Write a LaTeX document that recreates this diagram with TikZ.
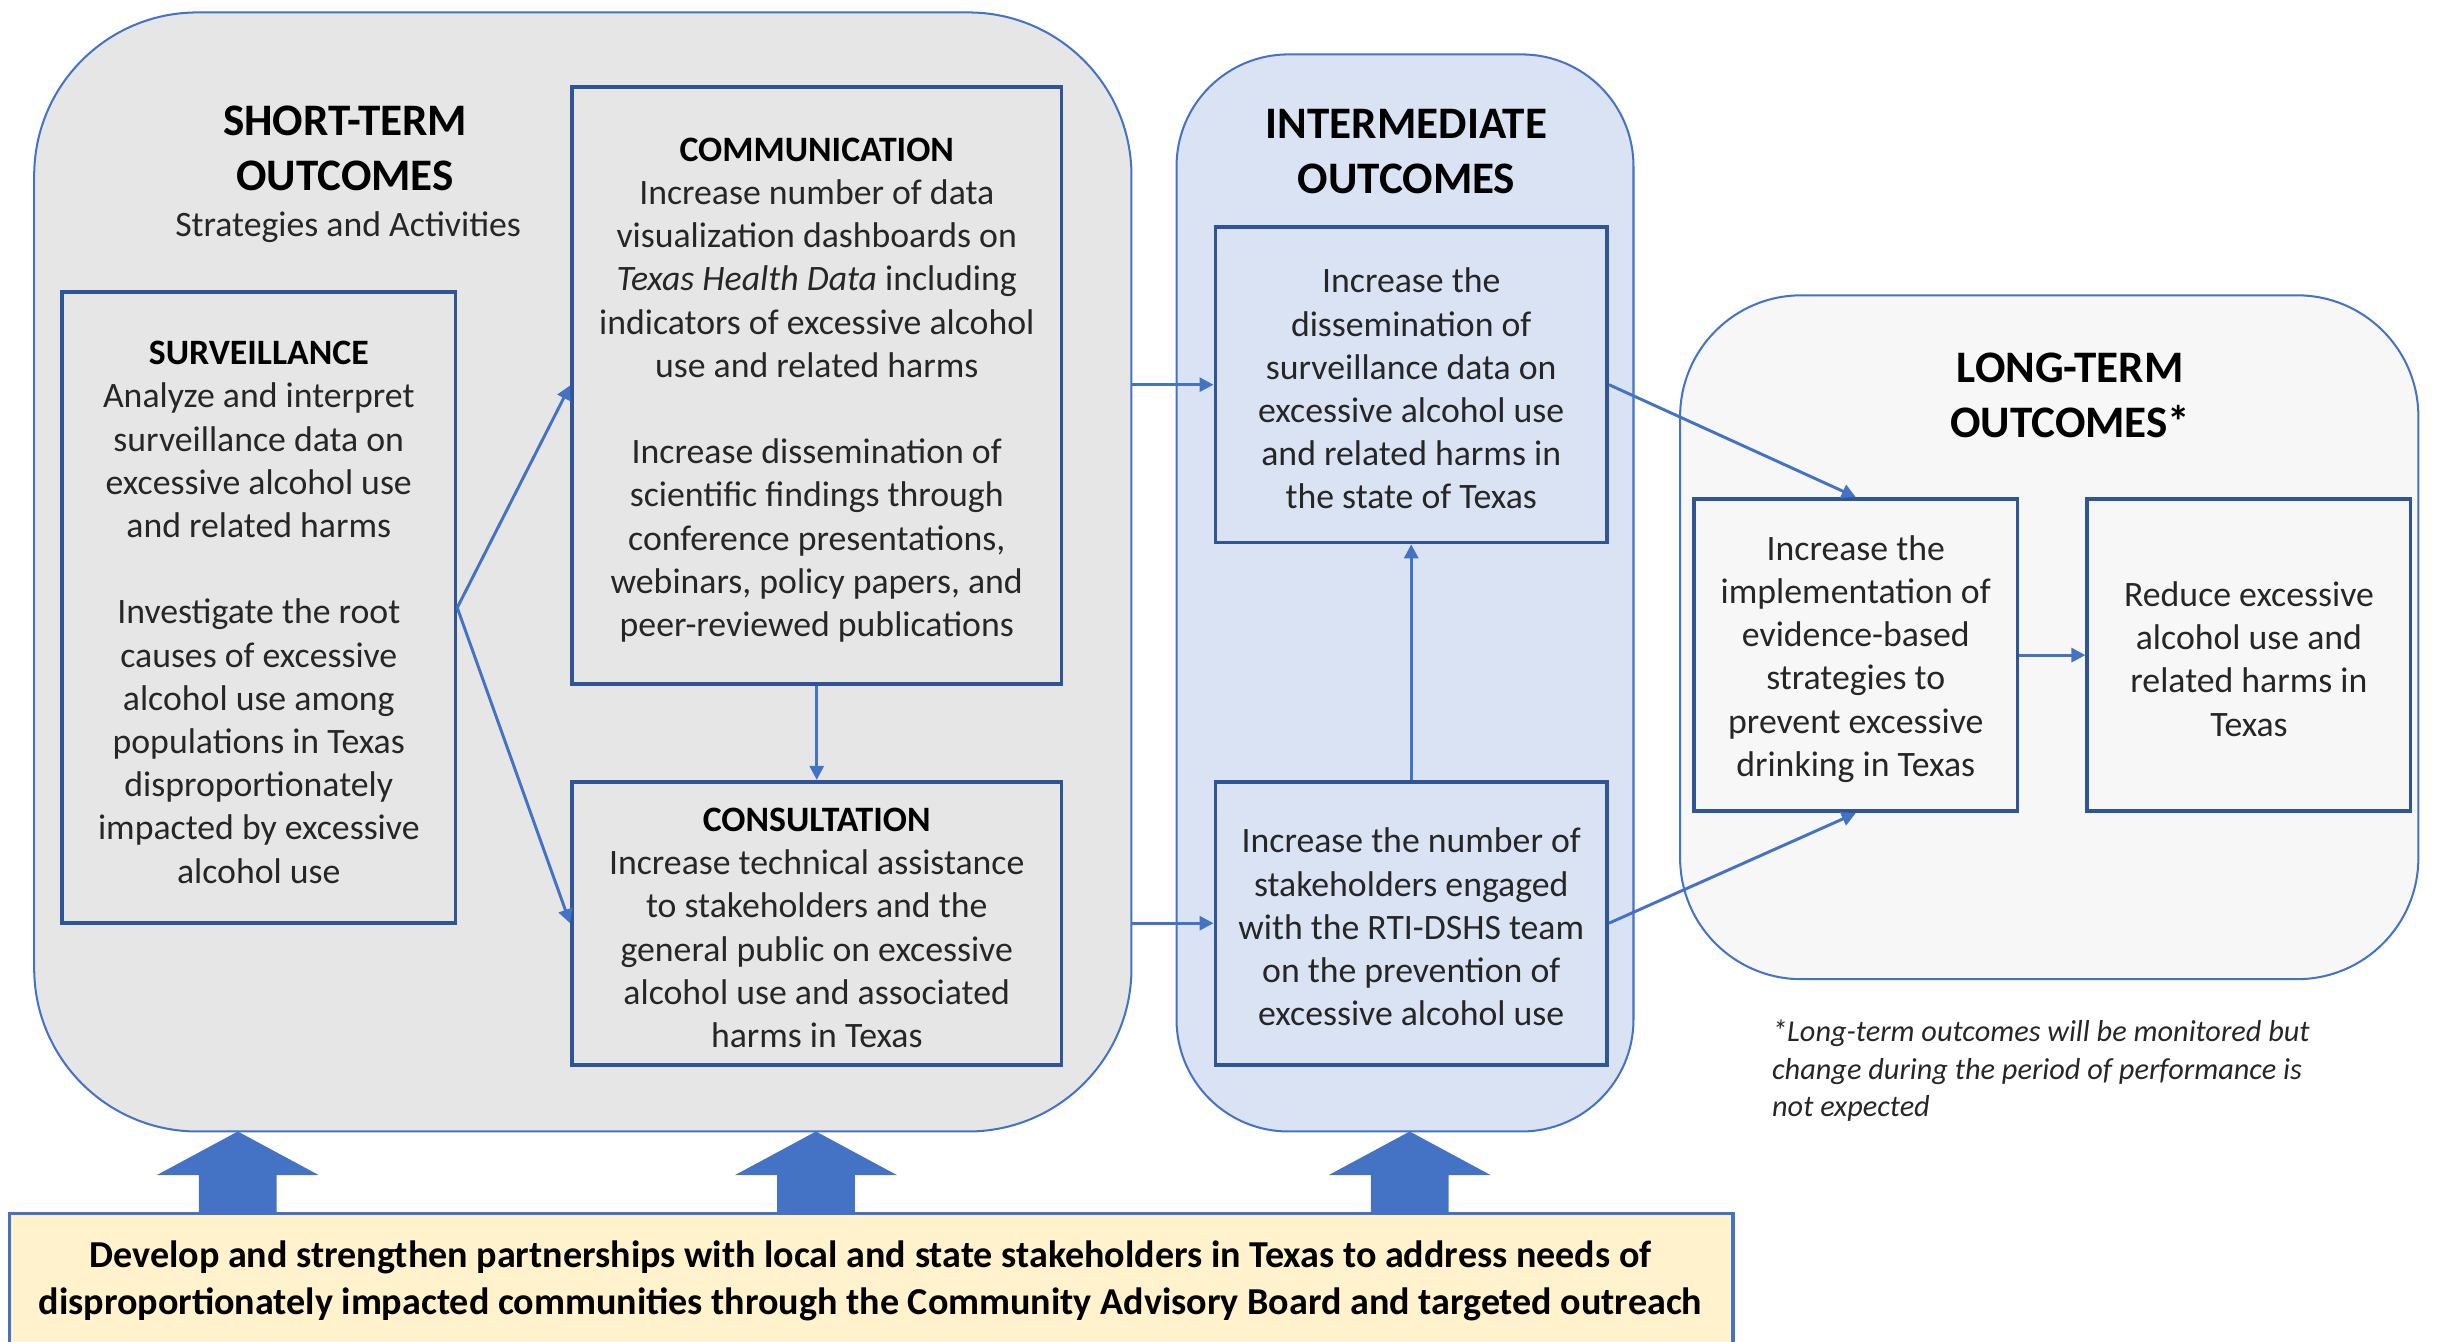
\documentclass[tikz,border=0pt]{standalone}
\usepackage{fontspec}
\setmainfont{Carlito}
\usetikzlibrary{arrows.meta}

\definecolor{boxblue}{HTML}{2F5597}
\definecolor{lineblue}{HTML}{4472C4}
\definecolor{shortfill}{HTML}{E7E6E6}
\definecolor{midfill}{HTML}{DAE3F3}
\definecolor{longfill}{HTML}{F7F7F7}
\definecolor{basefill}{HTML}{FFF2CC}
\definecolor{bodytext}{HTML}{262626}

\newcommand\bodysize{\fontsize{23}{27.8}\selectfont}
\newcommand\titlesize{\fontsize{29}{35}\selectfont\bfseries}
% invisible rule that evens out the first line's height
\newcommand\toprule{\rule{0pt}{21pt}}

\tikzset{
  container/.style={draw=lineblue, line width=1.3pt, rectangle, inner sep=0pt},
  stepbox/.style={draw=boxblue, line width=2.4pt, rectangle, inner sep=0pt,
    align=center, font=\bodysize, text=bodytext},
  heading/.style={align=center, font=\titlesize, text=black, inner sep=0pt},
  conn/.style={draw=lineblue, line width=1.9pt,
    -{Triangle[length=9pt,width=9pt]}},
}

\begin{document}
\begin{tikzpicture}[x=1pt,y=-1pt]
\useasboundingbox (0,0) rectangle (1568,863);
\clip (0,0) rectangle (1568,863);

% outcome containers
\node[container, fill=shortfill, minimum width=706pt, minimum height=720pt,
      rounded corners=105pt] (shorto) at (375,368) {};
\node[container, fill=midfill, minimum width=294pt, minimum height=693pt,
      rounded corners=72pt] (inter) at (904,381.5) {};
\node[container, fill=longfill, minimum width=475pt, minimum height=440pt,
      rounded corners=78pt] (longo) at (1318.5,410) {};

% headings
\node[heading] (sttitle) at (222,95.5) {SHORT-TERM\\OUTCOMES};
\node[font=\bodysize, text=bodytext, inner sep=0pt] (stsub) at (224,146)
  {Strategies and Activities};
\node[heading] (imtitle) at (905,97.5) {INTERMEDIATE\\OUTCOMES};
\node[heading] (lttitle) at (1332,254.5) {LONG-TERM\\OUTCOMES*};

% short-term activity boxes
\node[stepbox, minimum width=253pt, minimum height=406pt] (surv) at (166.5,391)
  {\toprule\textbf{\color{black}SURVEILLANCE}\\
   Analyze and interpret\\ surveillance data on\\ excessive alcohol use\\
   and related harms\\[27.8pt]
   Investigate the root\\ causes of excessive\\ alcohol use among\\
   populations in Texas\\ disproportionately\\ impacted by excessive\\
   alcohol use};
\node[stepbox, minimum width=315pt, minimum height=384pt] (comm) at (525.5,248)
  {\toprule\textbf{\color{black}COMMUNICATION}\\
   Increase number of data\\ visualization dashboards on\\
   \textit{Texas Health Data} including\\ indicators of excessive alcohol\\
   use and related harms\\[27.8pt]
   Increase dissemination of\\ scientific findings through\\
   conference presentations,\\ webinars, policy papers, and\\
   peer-reviewed publications};
\node[stepbox, minimum width=315pt, minimum height=182pt] (cons) at (525.5,594)
  {\toprule\textbf{\color{black}CONSULTATION}\\
   Increase technical assistance\\ to stakeholders and the\\
   general public on excessive\\ alcohol use and associated\\
   harms in Texas};

% intermediate boxes
\node[stepbox, minimum width=252pt, minimum height=203pt] (int1) at (908,247.5)
  {\toprule Increase the\\ dissemination of\\ surveillance data on\\
   excessive alcohol use\\ and related harms in\\ the state of Texas};
\node[stepbox, minimum width=252pt, minimum height=182pt] (int2) at (908,594)
  {\toprule Increase the number of\\ stakeholders engaged\\ with the RTI-DSHS team\\
   on the prevention of\\ excessive alcohol use};

% long-term boxes
\node[stepbox, minimum width=208pt, minimum height=201pt] (lt1) at (1194,421.5)
  {\toprule Increase the\\ implementation of\\ evidence-based\\ strategies to\\
   prevent excessive\\ drinking in Texas};
\node[stepbox, minimum width=208pt, minimum height=201pt] (lt2) at (1447,421.5)
  {\toprule Reduce excessive\\ alcohol use and\\ related harms in\\ Texas};

% footnote
\node[anchor=west, align=left, inner sep=0pt, text=bodytext,
      font=\fontsize{19.5}{24}\selectfont\itshape] (note) at (1140,689)
  {*Long-term outcomes will be monitored but\\
   change during the period of performance is\\
   not expected};

% connectors
\draw[conn] (surv.east) -- (comm.west);
\draw[conn] (surv.east) -- (cons.west);
\draw[conn] (comm.south) -- (cons.north);
\draw[conn] (int1.west -| shorto.east) -- (int1.west);
\draw[conn] (int2.west -| shorto.east) -- (int2.west);
\draw[conn] (int2.north) -- (int1.south);
\draw[conn] (int1.east) -- (lt1.north);
\draw[conn] (int2.east) -- (lt1.south);
\draw[conn] (lt1.east) -- (lt2.west);

% block arrows from the partnership bar up to the containers
\foreach \ax in {153,525,907}{
  \fill[lineblue] (\ax-25,783) -- (\ax-25,756) -- (\ax-52,756) -- (\ax,728)
    -- (\ax+52,756) -- (\ax+25,756) -- (\ax+25,783) -- cycle;
}

% partnership bar
\node[draw=lineblue, line width=2pt, fill=basefill, rectangle, inner sep=0pt,
      minimum width=1109pt, minimum height=84pt] (base) at (560.5,823) {};
\node[align=center, inner sep=0pt, text=black,
      font=\fontsize{24.5}{30}\selectfont\bfseries] (basetext) at (560,824)
  {Develop and strengthen partnerships with local and state stakeholders in Texas to address needs of\\
   disproportionately impacted communities through the Community Advisory Board and targeted outreach};
\end{tikzpicture}
\end{document}
